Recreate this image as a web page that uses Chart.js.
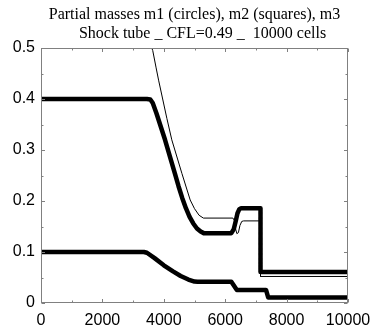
<!DOCTYPE html>
<html>
<head>
<meta charset="utf-8">
<script src="https://cdn.jsdelivr.net/npm/chart.js@4/dist/chart.umd.min.js"></script>
<style>
  html, body { margin: 0; padding: 0; background: #fff; }
</style>
</head>
<body>
<canvas id="massChart" width="370" height="330"></canvas>
<script>
// Axes ticks
const xTicks = [0, 2000, 4000, 6000, 8000, 10000];
const xMinor = [1000, 3000, 5000, 7000, 9000];
const yTicks = [0, 0.1, 0.2, 0.3, 0.4, 0.5];
const yMinor = [0.05, 0.15, 0.25, 0.35, 0.45];

// m1 (circles) - thick upper curve
const m1X = [0, 3450, 3560, 3640, 3760, 4040, 4360, 4480, 4600, 4720, 4840, 4960, 5080, 5200, 5300, 6200, 6280, 6340, 6400, 6460, 6520, 7150, 7150, 10000];
const m1Y = [0.4, 0.4, 0.399, 0.392, 0.372, 0.32, 0.254, 0.229, 0.206, 0.186, 0.169, 0.156, 0.146, 0.140, 0.137, 0.137, 0.145, 0.160, 0.176, 0.184, 0.186, 0.186, 0.061, 0.061];

// m1 points spread along the shock
const shockX = [7150, 7150, 7150, 7150, 7150, 7150, 7150, 7150, 7150, 7150, 7150, 7150, 7150];
const shockY = [0.176, 0.166, 0.156, 0.146, 0.136, 0.126, 0.116, 0.106, 0.096, 0.086, 0.078, 0.072, 0.067];

// m2 (squares) - thick lower curve
const m2X = [0, 3350, 3450, 3700, 4000, 4300, 4550, 4800, 5000, 5100, 6200, 6380, 7330, 7400, 10000];
const m2Y = [0.1, 0.1, 0.0985, 0.088, 0.074, 0.062, 0.053, 0.046, 0.042, 0.0415, 0.0415, 0.0255, 0.0255, 0.011, 0.011];

// m3 - thin line
const m3X = [0, 3610, 3640, 3750, 3830, 4100, 4260, 4590, 4860, 5000, 5150, 5290, 6250, 6300, 6340, 6380, 6430, 6480, 6540, 6600, 7150, 7150, 10000];
const m3Y = [0.5, 0.5, 0.495, 0.461, 0.437, 0.362, 0.32, 0.254, 0.202, 0.185, 0.172, 0.1665, 0.1665, 0.162, 0.145, 0.136, 0.138, 0.152, 0.160, 0.161, 0.161, 0.052, 0.052];

const titleLines = ['Partial masses m1 (circles), m2 (squares), m3', '    Shock tube _ CFL=0.49 _  10000 cells'];

function toPoints(xs, ys) {
    return xs.map((x, i) => ({ x: x, y: ys[i] }));
}

// Cadre gris + petites graduations tournées vers l'intérieur
const framePlugin = {
    id: 'frame',
    afterDatasetsDraw(chart) {
        const { ctx, chartArea: a, scales: { x, y } } = chart;
        const l = Math.round(a.left) + 0.5, r = Math.round(a.right) - 0.5;
        const t = Math.round(a.top) + 0.5, b = Math.round(a.bottom) - 0.5;
        ctx.save();
        ctx.strokeStyle = '#808080';
        ctx.lineWidth = 1;
        ctx.strokeRect(l, t, r - l, b - t);
        ctx.beginPath();
        const tickX = (vals, len) => vals.forEach(v => {
            const px = Math.round(x.getPixelForValue(v)) + 0.5;
            ctx.moveTo(px, b); ctx.lineTo(px, b - len);
            ctx.moveTo(px, t); ctx.lineTo(px, t + len);
        });
        const tickY = (vals, len) => vals.forEach(v => {
            const py = Math.round(y.getPixelForValue(v)) + 0.5;
            ctx.moveTo(l, py); ctx.lineTo(l + len, py);
            ctx.moveTo(r, py); ctx.lineTo(r - len, py);
        });
        tickX(xTicks, 3.5); tickX(xMinor, 2);
        tickY(yTicks, 3.5); tickY(yMinor, 2);
        ctx.stroke();
        ctx.restore();
    }
};

const thick = {
    showLine: true,
    borderColor: '#000',
    borderWidth: 4.5,
    pointRadius: 0,
    borderJoinStyle: 'round',
    borderCapStyle: 'round'
};

const tickFont = { family: '"Liberation Sans", Arial, sans-serif', size: 16 };

new Chart(document.getElementById('massChart'), {
    type: 'scatter',
    data: {
        datasets: [
            { label: 'm3', data: toPoints(m3X, m3Y), showLine: true, borderColor: '#000', borderWidth: 1, pointRadius: 0 },
            Object.assign({ label: 'm1', data: toPoints(m1X, m1Y) }, thick),
            Object.assign({ label: 'm2', data: toPoints(m2X, m2Y) }, thick),
            {
                label: 'm1 shock',
                data: toPoints(shockX, shockY),
                showLine: false,
                pointStyle: 'rect',
                pointRadius: 1.6,
                pointBackgroundColor: '#fff',
                pointBorderColor: '#000',
                pointBorderWidth: 0.8
            }
        ]
    },
    options: {
        responsive: false,
        animation: false,
        devicePixelRatio: 1,
        layout: { padding: { left: 0, right: 22, top: 0, bottom: 0 } },
        plugins: {
            legend: { display: false },
            tooltip: { enabled: false },
            title: {
                display: true,
                fullSize: false,
                text: titleLines,
                color: '#000',
                font: { family: '"Liberation Serif", "Times New Roman", serif', size: 16, weight: 'normal', lineHeight: 1.16 },
                padding: { top: 6, bottom: 4.9 }
            }
        },
        scales: {
            x: {
                type: 'linear',
                min: 0,
                max: 10000,
                afterBuildTicks: s => { s.ticks = xTicks.map(v => ({ value: v })); },
                afterFit: s => { s.height = 27; s.paddingLeft = 0; s.paddingRight = 0; },
                grid: { display: false, drawTicks: false },
                border: { display: false },
                ticks: { autoSkip: false, maxRotation: 0, padding: 8, color: '#000', font: tickFont, callback: v => String(v) }
            },
            y: {
                type: 'linear',
                min: 0,
                max: 0.5,
                afterBuildTicks: s => { s.ticks = yTicks.map(v => ({ value: v })); },
                afterFit: s => { s.width = 41; s.paddingTop = 0; s.paddingBottom = 0; },
                grid: { display: false, drawTicks: false },
                border: { display: false },
                ticks: { padding: 6, color: '#000', font: tickFont, callback: v => String(+Number(v).toFixed(1)) }
            }
        }
    },
    plugins: [framePlugin]
});
</script>
</body>
</html>
